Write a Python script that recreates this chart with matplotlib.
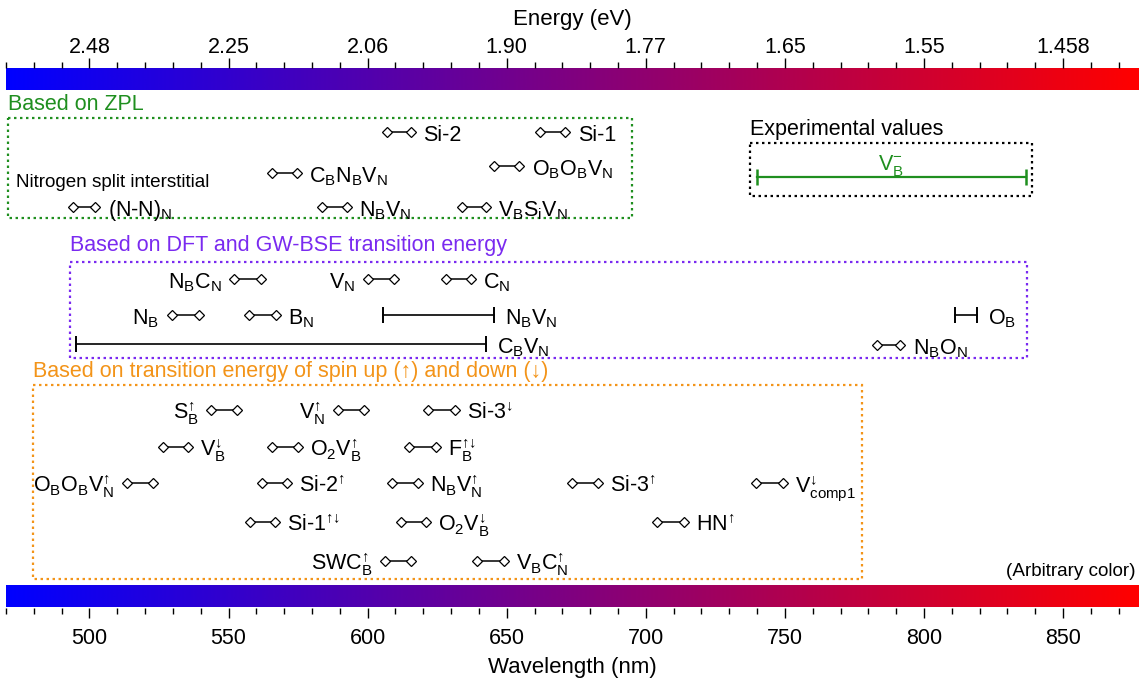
import numpy as np
import matplotlib.pyplot as plt
from matplotlib.colors import LinearSegmentedColormap
from matplotlib.patches import Rectangle
from matplotlib.ticker import MultipleLocator

plt.rcParams['font.family'] = ['Liberation Sans', 'DejaVu Sans']
plt.rcParams['mathtext.fontset'] = 'custom'
plt.rcParams['mathtext.rm'] = 'Liberation Sans'
plt.rcParams['mathtext.it'] = 'Liberation Sans:italic'
plt.rcParams['mathtext.bf'] = 'Liberation Sans:bold'

# spin arrows used as superscripts
UP = '\\mathrm{\u2191}'
DN = '\\mathrm{\u2193}'
UD = '\\mathrm{\u2191\u2193}'

# axis ticks: wavelength (nm) and the matching photon energy (eV)
wl_ticks = [500, 550, 600, 650, 700, 750, 800, 850]
energy_labels = ['2.48', '2.25', '2.06', '1.90', '1.77', '1.65', '1.55', '1.458']

# emitters assigned from ZPL (wavelength window, nm)
zpl_names = ['Si-2', 'Si-1',
             r'O$_\mathrm{B}$O$_\mathrm{B}$V$_\mathrm{N}$',
             r'C$_\mathrm{B}$N$_\mathrm{B}$V$_\mathrm{N}$',
             r'(N-N)$_\mathrm{N}$',
             r'N$_\mathrm{B}$V$_\mathrm{N}$',
             r'V$_\mathrm{B}$S$_\mathrm{i}$V$_\mathrm{N}$']
zpl_lo = [607, 662, 645.5, 565.5, 494, 583.5, 634]
zpl_hi = [615.5, 671, 654.5, 574.5, 502, 592.5, 642.5]

# experimental emission range of the boron vacancy
exp_names = [r'V$_\mathrm{B}^{-}$']
exp_lo = [740]
exp_hi = [836.5]

# DFT / GW-BSE transition energies
dft_names = [r'N$_\mathrm{B}$C$_\mathrm{N}$', r'V$_\mathrm{N}$', r'C$_\mathrm{N}$',
             r'N$_\mathrm{B}$', r'B$_\mathrm{N}$', r'N$_\mathrm{B}$O$_\mathrm{N}$']
dft_lo = [552, 600, 628, 529.5, 557.5, 783]
dft_hi = [561.5, 609.5, 637, 539.5, 567, 791.5]

dft_range_names = [r'N$_\mathrm{B}$V$_\mathrm{N}$', r'O$_\mathrm{B}$', r'C$_\mathrm{B}$V$_\mathrm{N}$']
dft_range_lo = [605.5, 811, 495.2]
dft_range_hi = [645.3, 819, 642.5]

# spin-resolved transition energies
spin_names = ['S$_\\mathrm{B}^{%s}$' % UP, 'V$_\\mathrm{N}^{%s}$' % UP, 'Si-3$^{%s}$' % DN,
              'V$_\\mathrm{B}^{%s}$' % DN, 'O$_2$V$_\\mathrm{B}^{%s}$' % UP, 'F$_\\mathrm{B}^{%s}$' % UD,
              'O$_\\mathrm{B}$O$_\\mathrm{B}$V$_\\mathrm{N}^{%s}$' % UP, 'Si-2$^{%s}$' % UP,
              'N$_\\mathrm{B}$V$_\\mathrm{N}^{%s}$' % UP, 'Si-3$^{%s}$' % UP, 'V$_\\mathrm{comp1}^{%s}$' % DN,
              'Si-1$^{%s}$' % UD, 'O$_2$V$_\\mathrm{B}^{%s}$' % DN, 'HN$^{%s}$' % UP,
              'SWC$_\\mathrm{B}^{%s}$' % UP, 'V$_\\mathrm{B}$C$_\\mathrm{N}^{%s}$' % UP]
spin_lo = [543.7, 589.3, 621.6, 526.4, 565.6, 614.8, 513.5, 562, 608.7, 673.4, 739.5,
           557.7, 611.9, 703.9, 606.2, 639.2]
spin_hi = [553, 598.6, 631.3, 535.4, 574.9, 624.5, 522.8, 571, 618, 682.7, 749.2,
           566.7, 620.9, 713.6, 615.5, 648.9]

# layout: row heights (pixel-like units, top = 68) and label side
zpl_rows = [132, 132, 166, 173, 207, 207, 207]
zpl_side = 'rrrrrrr'
dft_rows = [279, 279, 279, 315, 315, 345]
dft_side = 'llrlrr'
dft_range_rows = [315, 315, 344]
spin_rows = [410, 410, 410, 447, 447, 447, 483, 483, 483, 483, 483, 522, 522, 522, 561, 561]
spin_side = 'llrrrrlrrrrrrrlr'

GREEN = '#1f8f1f'
PURPLE = '#7a2af0'
ORANGE = '#f39419'

XMIN, XMAX = 470, 877.3
YTOP, YBOT = 68, 607.5

fig = plt.figure(figsize=(11.41, 6.91), dpi=100)
ax = fig.add_axes([6 / 1141, (691 - YBOT) / 691, 1133 / 1141, (YBOT - YTOP) / 691])
ax.set_xlim(XMIN, XMAX)
ax.set_ylim(YBOT, YTOP)
for s in ax.spines.values():
    s.set_visible(False)
ax.set_yticks([])

# spectrum strips at top and bottom
cmap = LinearSegmentedColormap.from_list('br', ['#0000ff', '#ff0000'])
grad = np.linspace(0, 1, 512)[None, :]
ax.imshow(grad, cmap=cmap, aspect='auto', extent=[XMIN, XMAX, 90, YTOP], zorder=1)
ax.imshow(grad, cmap=cmap, aspect='auto', extent=[XMIN, XMAX, YBOT, 586], zorder=1)

# wavelength axis
ax.set_xticks(wl_ticks)
ax.xaxis.set_minor_locator(MultipleLocator(10))
ax.tick_params(axis='x', which='major', direction='out', length=7.5, width=1.0, labelsize=15.5, pad=7)
ax.tick_params(axis='x', which='minor', direction='out', length=4.3, width=1.0)
ax.set_xlabel('Wavelength (nm)', fontsize=16, labelpad=6)

# energy axis on top
ax_top = ax.twiny()
ax_top.set_xlim(XMIN, XMAX)
for s in ax_top.spines.values():
    s.set_visible(False)
ax_top.set_xticks(wl_ticks, energy_labels)
ax_top.xaxis.set_minor_locator(MultipleLocator(10))
ax_top.tick_params(axis='x', which='major', direction='out', length=7.5, width=1.0, labelsize=15.5, pad=0)
ax_top.tick_params(axis='x', which='minor', direction='out', length=4.3, width=1.0)
ax_top.set_xlabel('Energy (eV)', fontsize=16, labelpad=8)

LABEL_FS = 15.5


def pair(name, lo, hi, y, side):
    ax.plot([lo, hi], [y, y], '-', color='k', lw=1.1, marker='D', ms=4.6,
            mfc='white', mec='k', mew=0.9, zorder=3)
    if side == 'r':
        ax.annotate(name, (hi, y), xytext=(9, -6.5), textcoords='offset points',
                    ha='left', va='baseline', fontsize=LABEL_FS)
    else:
        ax.annotate(name, (lo, y), xytext=(-9, -6.5), textcoords='offset points',
                    ha='right', va='baseline', fontsize=LABEL_FS)


def span(name, lo, hi, y, color='k', lw=1.2, label=True):
    ax.plot([lo, hi], [y, y], '-', color=color, lw=lw, marker='|', ms=11.5,
            mew=lw + 0.2, zorder=3)
    if label:
        ax.annotate(name, (hi, y), xytext=(8, -6.5), textcoords='offset points',
                    ha='left', va='baseline', fontsize=LABEL_FS)


def box(x0, x1, y0, y1, color):
    ax.add_patch(Rectangle((x0, y0), x1 - x0, y1 - y0, fill=False, ec=color,
                           lw=1.6, ls=(0, (1.1, 1.6)), zorder=2))


# ZPL group
box(470.7, 694.9, 118, 218, GREEN)
ax.text(470.7, 105, 'Based on ZPL', color=GREEN, fontsize=LABEL_FS, ha='left', va='center')
ax.text(473.6, 183, 'Nitrogen split interstitial', fontsize=13.6, ha='left', va='center')
for args in zip(zpl_names, zpl_lo, zpl_hi, zpl_rows, zpl_side):
    pair(*args)

# experimental values
box(737.3, 839.0, 143, 196, 'k')
ax.text(737.3, 130, 'Experimental values', fontsize=LABEL_FS, ha='left', va='center')
for name, lo, hi in zip(exp_names, exp_lo, exp_hi):
    span(name, lo, hi, 177, color=GREEN, lw=1.6, label=False)
    ax.annotate(name, ((lo + hi) / 2, 177), xytext=(0, 5), textcoords='offset points',
                ha='center', va='baseline', fontsize=LABEL_FS, color=GREEN)

# DFT / GW-BSE group
box(493.0, 836.9, 262, 358, PURPLE)
ax.text(493.0, 246, 'Based on DFT and GW-BSE transition energy', color=PURPLE,
        fontsize=LABEL_FS, ha='left', va='center')
for args in zip(dft_names, dft_lo, dft_hi, dft_rows, dft_side):
    pair(*args)
for args in zip(dft_range_names, dft_range_lo, dft_range_hi, dft_range_rows):
    span(*args)

# spin-resolved group
box(479.7, 777.6, 385, 579, ORANGE)
ax.text(479.7, 372, 'Based on transition energy of spin up (\u2191) and down (\u2193)',
        color=ORANGE, fontsize=LABEL_FS, ha='left', va='center')
for args in zip(spin_names, spin_lo, spin_hi, spin_rows, spin_side):
    pair(*args)

ax.text(876.2, 571, '(Arbitrary color)', fontsize=13.6, ha='right', va='center')

fig.savefig('out.png', dpi=100)
